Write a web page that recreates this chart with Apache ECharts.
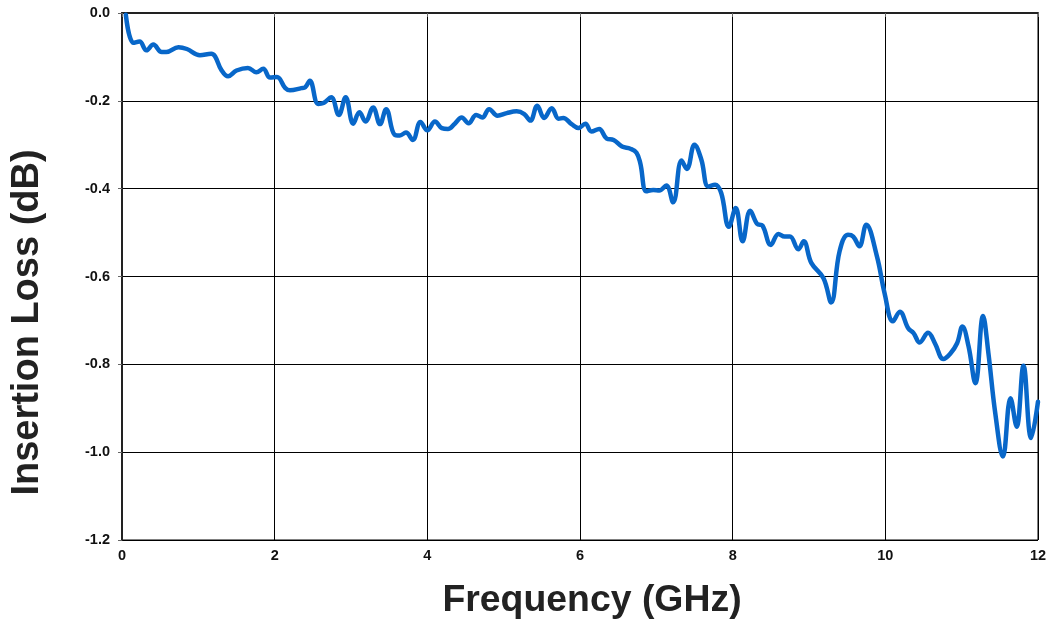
<!DOCTYPE html>
<html>
<head>
<meta charset="utf-8">
<script src="https://cdn.jsdelivr.net/npm/echarts@6/dist/echarts.min.js"></script>
<style>
  html, body { margin: 0; padding: 0; background: #fff; }
  #chart { width: 1052px; height: 621px; }
</style>
</head>
<body>
<div id="chart"></div>
<script>
// Measured insertion loss vs. frequency
const freqGHz = [
  0.05, 0.15, 0.23, 0.32, 0.41, 0.52, 0.58, 0.74, 0.85, 1.02, 1.17, 1.22, 1.30, 1.39, 1.50,
  1.65, 1.76, 1.85, 1.94, 2.03, 2.14, 2.20, 2.35, 2.40, 2.46, 2.57, 2.64, 2.74, 2.84, 2.93,
  3.03, 3.11, 3.19, 3.29, 3.38, 3.46, 3.57, 3.64, 3.72, 3.81, 3.91, 4.00, 4.10, 4.19, 4.27,
  4.36, 4.45, 4.54, 4.64, 4.72, 4.81, 4.92, 5.04, 5.17, 5.27, 5.35, 5.44, 5.53, 5.63, 5.72,
  5.78, 5.89, 5.98, 6.07, 6.15, 6.25, 6.35, 6.44, 6.55, 6.66, 6.74, 6.79, 6.87, 6.96, 7.04,
  7.13, 7.22, 7.33, 7.40, 7.50, 7.59, 7.68, 7.77, 7.85, 7.95, 8.04, 8.13, 8.23, 8.32, 8.39,
  8.50, 8.60, 8.68, 8.75, 8.86, 8.93, 9.03, 9.19, 9.29, 9.40, 9.51, 9.58, 9.66, 9.75, 9.89,
  9.99, 10.10, 10.19, 10.30, 10.37, 10.45, 10.56, 10.65, 10.76, 10.85, 10.94, 11.01, 11.09, 11.18, 11.28,
  11.35, 11.44, 11.54, 11.64, 11.72, 11.81, 11.91, 12.00
];
const lossDB = [
  -0.004, -0.068, -0.065, -0.085, -0.072, -0.089, -0.089, -0.078, -0.082, -0.096, -0.093, -0.099, -0.129, -0.144, -0.131,
  -0.125, -0.135, -0.127, -0.147, -0.146, -0.171, -0.176, -0.171, -0.169, -0.154, -0.207, -0.205, -0.192, -0.232, -0.192,
  -0.252, -0.226, -0.247, -0.215, -0.253, -0.219, -0.277, -0.279, -0.272, -0.289, -0.248, -0.267, -0.247, -0.262, -0.264,
  -0.252, -0.238, -0.251, -0.232, -0.238, -0.219, -0.234, -0.228, -0.224, -0.230, -0.245, -0.211, -0.239, -0.217, -0.241,
  -0.239, -0.253, -0.262, -0.252, -0.270, -0.264, -0.286, -0.289, -0.304, -0.309, -0.318, -0.342, -0.406, -0.403, -0.404,
  -0.393, -0.431, -0.336, -0.355, -0.300, -0.334, -0.395, -0.391, -0.410, -0.487, -0.444, -0.520, -0.450, -0.480, -0.484,
  -0.528, -0.503, -0.509, -0.509, -0.538, -0.520, -0.569, -0.604, -0.659, -0.543, -0.505, -0.509, -0.531, -0.482, -0.554,
  -0.638, -0.702, -0.680, -0.718, -0.729, -0.750, -0.728, -0.752, -0.788, -0.776, -0.752, -0.714, -0.759, -0.843, -0.690,
  -0.774, -0.911, -1.010, -0.877, -0.942, -0.803, -0.968, -0.885
];
const xTicks = { min: 0, max: 12, step: 2 };
const yTicks = { min: -1.2, max: 0, step: 0.2 };

const points = freqGHz.map((f, i) => [f, lossDB[i]]);

const FONT = '"Liberation Sans", Arial, sans-serif';
const chart = echarts.init(document.getElementById('chart'), null, { renderer: 'canvas' });

chart.setOption({
  animation: false,
  backgroundColor: '#ffffff',
  grid: {
    left: 122, right: 14, top: 13, bottom: 81,
    containLabel: false, outerBoundsMode: 'none',
    show: true, borderColor: '#000', borderWidth: 1
  },
  xAxis: {
    type: 'value',
    min: xTicks.min, max: xTicks.max, interval: xTicks.step,
    name: 'Frequency (GHz)',
    nameLocation: 'middle',
    nameGap: 42,
    nameTextStyle: {
      fontFamily: FONT, fontWeight: 'bold', fontSize: 37.4, color: '#222',
      padding: [0, 0, 0, 24]
    },
    axisLine: { lineStyle: { color: '#222', width: 2 } },
    axisTick: { show: true, length: 4, lineStyle: { color: '#666' } },
    axisLabel: { fontFamily: FONT, fontWeight: 'bold', fontSize: 14.5, color: '#111', margin: 8 },
    splitLine: { show: true, lineStyle: { color: '#000', width: 1 } }
  },
  yAxis: {
    type: 'value',
    min: yTicks.min, max: yTicks.max, interval: yTicks.step,
    name: 'Insertion Loss (dB)',
    nameLocation: 'middle',
    nameGap: 75,
    nameRotate: 90,
    nameTextStyle: {
      fontFamily: FONT, fontWeight: 'bold', fontSize: 38, color: '#222',
      padding: [0, 92, 0, 0]
    },
    axisLine: { show: true, lineStyle: { color: '#222', width: 2 } },
    axisTick: { show: true, length: 4, lineStyle: { color: '#666' } },
    axisLabel: {
      fontFamily: FONT, fontWeight: 'bold', fontSize: 14.5, color: '#111', margin: 12,
      formatter: v => v.toFixed(1)
    },
    splitLine: { show: true, lineStyle: { color: '#000', width: 1 } }
  },
  series: [{
    type: 'line',
    data: points,
    smooth: 0.4,
    symbol: 'none',
    clip: true,
    lineStyle: { color: '#0867c9', width: 4.5, cap: 'round', join: 'round' }
  }]
});
</script>
</body>
</html>
